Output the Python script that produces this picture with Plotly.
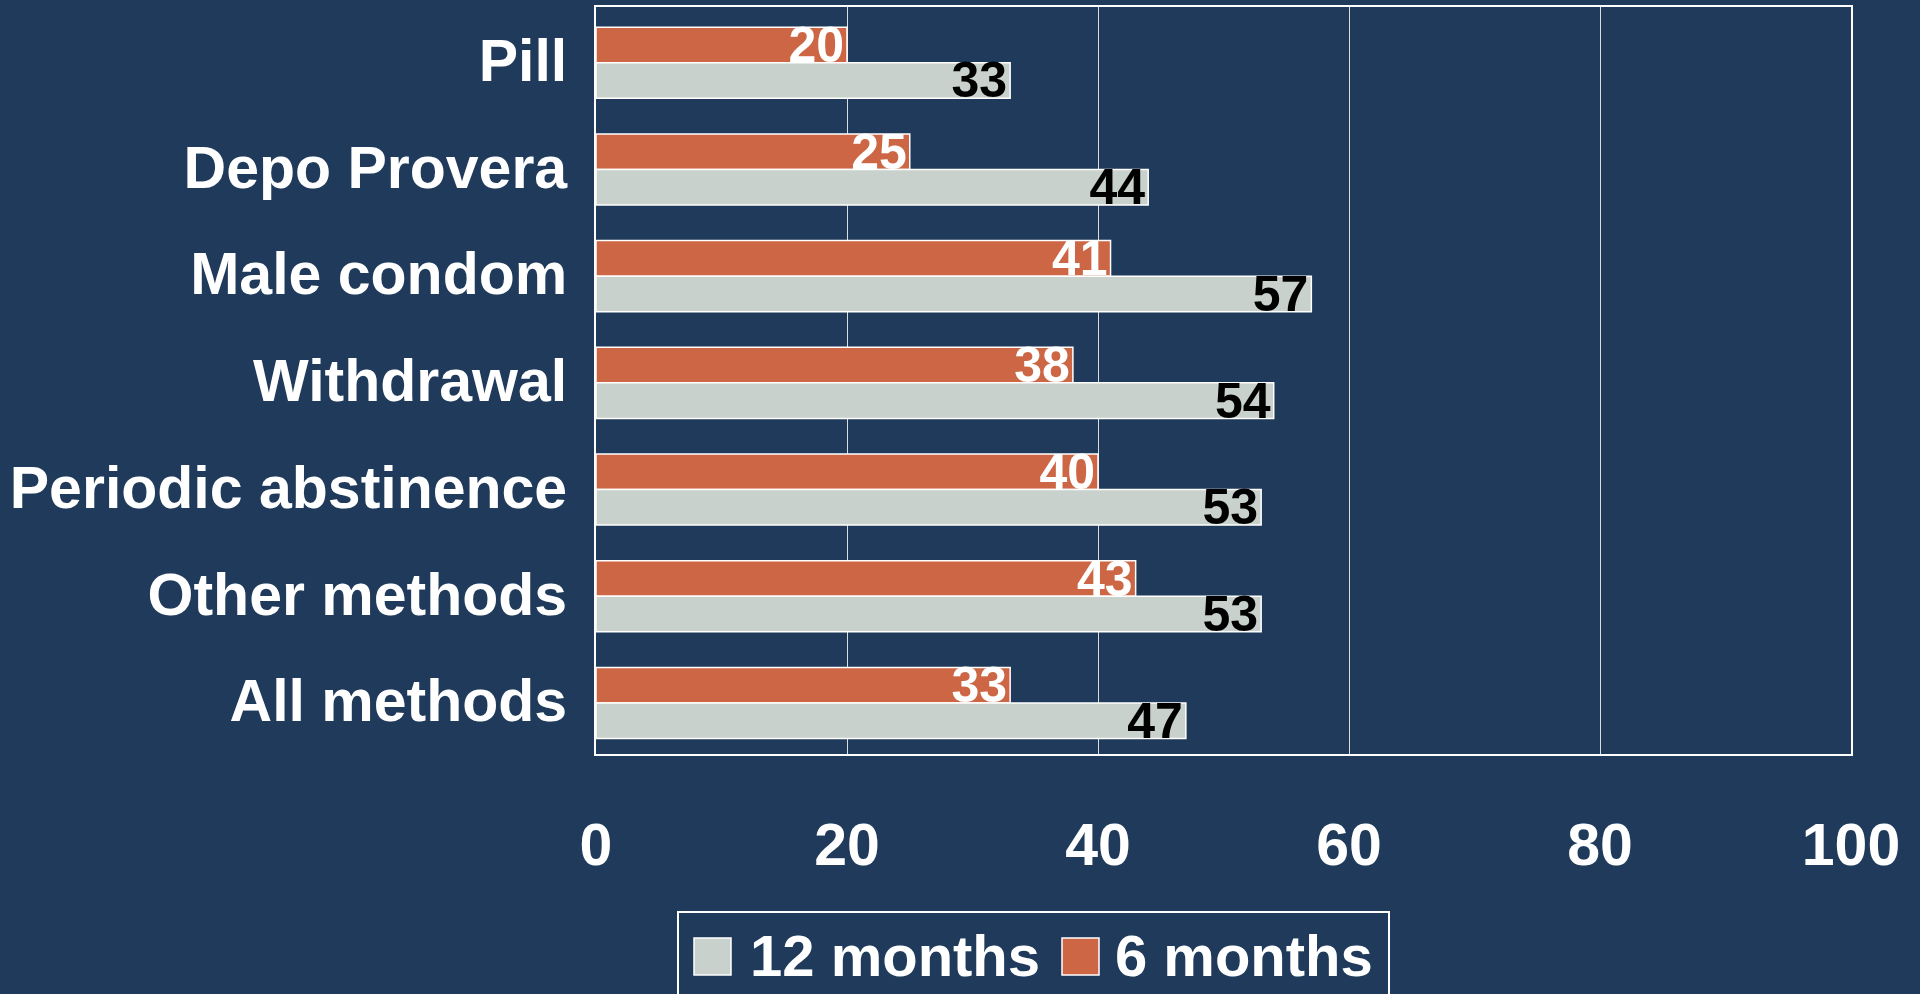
import plotly.graph_objects as go

categories = ["Pill", "Depo Provera", "Male condom", "Withdrawal",
              "Periodic abstinence", "Other methods", "All methods"]
months_12 = [33, 44, 57, 54, 53, 53, 47]
months_6 = [20, 25, 41, 38, 40, 43, 33]
x_ticks = [0, 20, 40, 60, 80, 100]
series_names = ["12 months", "6 months"]

BG = "#1F3A5A"
ORANGE = "#CC6644"
GRAY = "#C8D1CB"
FONT = "Liberation Sans, Arial, sans-serif"

W, H = 1920, 994
ML, MR, MT, MB = 596, 69, 7, 240
PW, PH = W - ML - MR, H - MT - MB

BAR_W = 0.333
SHIFT = 0.022


def px2x(px):
    return (px - ML) / PW


def px2y(py):
    return (H - MB - py) / PH


fig = go.Figure()
# 6 months first (drawn on top row), 12 months drawn after
fig.add_trace(go.Bar(
    y=categories, x=months_6, orientation="h", name=series_names[1],
    width=BAR_W, offset=-BAR_W + SHIFT,
    marker=dict(color=ORANGE, line=dict(color="white", width=1.5)),
    text=[str(v) for v in months_6], textposition="inside", textangle=0,
    insidetextanchor="end", constraintext="none", showlegend=False,
    textfont=dict(color="white", size=50, family=FONT, weight="bold"),
))
fig.add_trace(go.Bar(
    y=categories, x=months_12, orientation="h", name=series_names[0],
    width=BAR_W, offset=SHIFT,
    marker=dict(color=GRAY, line=dict(color="white", width=1.5)),
    text=[str(v) for v in months_12], textposition="inside", textangle=0,
    insidetextanchor="end", constraintext="none", showlegend=False,
    textfont=dict(color="black", size=50, family=FONT, weight="bold"),
))

# custom legend (box, swatches, labels)
shapes = [
    dict(type="rect", xref="paper", yref="paper",
         x0=px2x(678), x1=px2x(1389), y0=px2y(1010), y1=px2y(912),
         line=dict(color="white", width=2), fillcolor=BG, layer="above"),
    dict(type="rect", xref="paper", yref="paper",
         x0=px2x(694), x1=px2x(731), y0=px2y(975), y1=px2y(938),
         line=dict(color="white", width=1.5), fillcolor=GRAY, layer="above"),
    dict(type="rect", xref="paper", yref="paper",
         x0=px2x(1062), x1=px2x(1099), y0=px2y(975), y1=px2y(938),
         line=dict(color="white", width=1.5), fillcolor=ORANGE, layer="above"),
]
annotations = [
    dict(text=series_names[0], xref="paper", yref="paper",
         x=px2x(748), y=px2y(955), xanchor="left", yanchor="middle",
         showarrow=False,
         font=dict(size=58, color="white", family=FONT, weight="bold")),
    dict(text=series_names[1], xref="paper", yref="paper",
         x=px2x(1113), y=px2y(955), xanchor="left", yanchor="middle",
         showarrow=False,
         font=dict(size=58, color="white", family=FONT, weight="bold")),
]

fig.update_layout(
    width=W, height=H,
    paper_bgcolor=BG, plot_bgcolor=BG,
    barmode="group", bargap=0.335, bargroupgap=0,
    margin=dict(l=ML, r=MR, t=MT, b=MB, pad=0, autoexpand=False),
    font=dict(family=FONT, color="white", size=58, weight="bold"),
    showlegend=False,
    shapes=shapes,
    annotations=annotations,
    xaxis=dict(
        range=[0, 100], tickvals=x_ticks, ticktext=[str(t) for t in x_ticks],
        showgrid=True, gridcolor="#DCDCDC", gridwidth=1,
        showline=True, linecolor="white", linewidth=2, mirror=True,
        zeroline=False, ticks="", ticklabelstandoff=38,
        tickfont=dict(size=59, color="white", family=FONT, weight="bold"),
        fixedrange=True,
    ),
    yaxis=dict(
        type="category", categoryorder="array", categoryarray=categories,
        range=[len(categories) - 0.5, -0.5],
        showgrid=False, showline=True, linecolor="white", linewidth=2,
        mirror=True, ticks="", ticklabelstandoff=15,
        tickfont=dict(size=59, color="white", family=FONT, weight="bold"),
        fixedrange=True,
    ),
)

fig.write_html(
    "out.html",
    config={"displayModeBar": False},
    post_script="document.body.style.margin='0';document.body.style.overflow='hidden';",
)
